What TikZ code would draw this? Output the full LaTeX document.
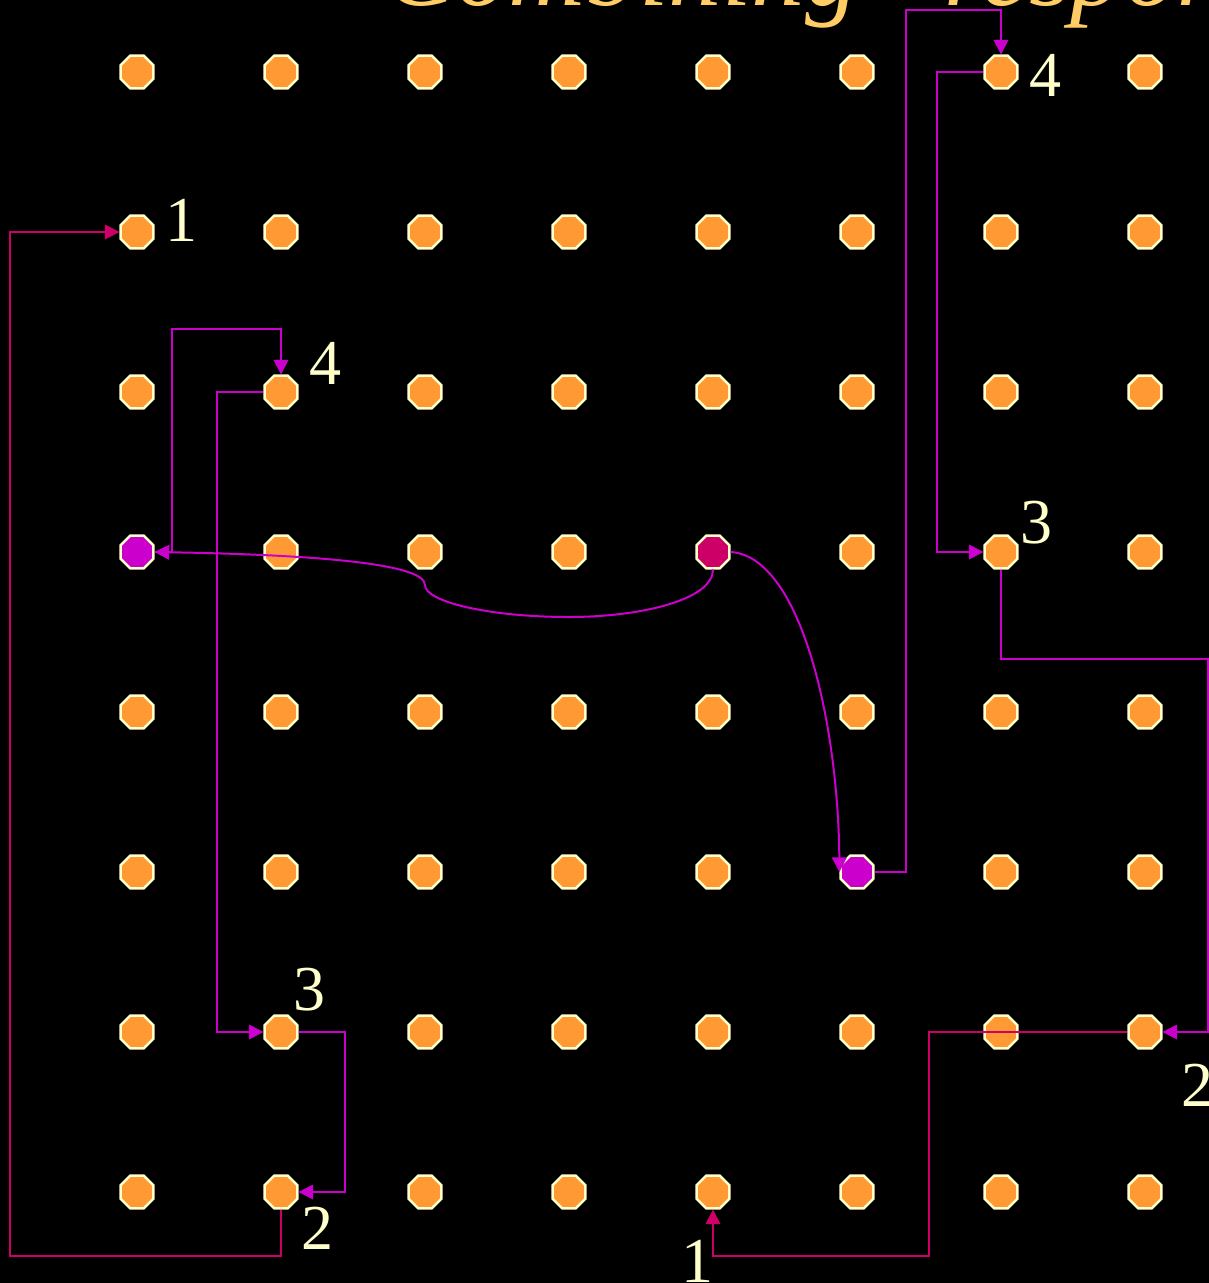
\documentclass[tikz,border=0pt]{standalone}
\usepackage{fontspec}
\setmainfont{Liberation Serif}
\usetikzlibrary{shapes.geometric,arrows.meta,positioning}
\definecolor{dotorange}{RGB}{255,153,51}
\definecolor{cream}{RGB}{255,255,204}
\definecolor{linkmag}{RGB}{204,0,204}
\definecolor{linkred}{RGB}{204,0,102}
\definecolor{titlegold}{RGB}{255,204,102}

\begin{document}
\begin{tikzpicture}[x=0.75pt,y=-0.75pt,
  dot/.style={regular polygon,regular polygon sides=8,draw=cream,line width=1.8pt,fill=dotorange,inner sep=0pt,minimum size=26.5pt},
  lnk/.style={-{Triangle[length=11pt,width=11pt]},line width=1.5pt,draw=linkmag},
  lnkred/.style={lnk,draw=linkred},
  lbl/.style={font=\fontsize{48}{50}\selectfont,text=cream,inner sep=0pt}]
\clip (0,0) rectangle (1209,1283);
\fill[black] (0,0) rectangle (1209,1283);
\node[anchor=base west,inner sep=0pt,text=titlegold,font=\fontsize{80}{86}\selectfont\itshape] (title) at (384,5) {Combining “responses”};
% grid of processors
\foreach \c in {1,...,8}
  \foreach \r in {1,...,8}{
    \def\dotfill{dotorange}
    \ifnum\c\r=54 \def\dotfill{linkred}\fi
    \ifnum\c\r=14 \def\dotfill{linkmag}\fi
    \ifnum\c\r=66 \def\dotfill{linkmag}\fi
    \node[dot,fill=\dotfill] (n-\c-\r) at ({137+144*(\c-1)},{72+160*(\r-1)}) {};
  }
% first combining steps
\draw[lnk] (n-5-4.south) .. controls (713,600) and (640,617) .. (569,617)
  .. controls (490,617) and (425,602) .. (425,585)
  .. controls (425,565) and (330,555) .. (n-1-4.east);
\draw[lnk] (n-5-4.east) .. controls (800,556) and (838,720) .. (n-6-6.west);
% left tour
\draw[lnk] (n-1-4.east) -- (172,552) -- (172,329) -| (n-2-3.north);
\draw[lnk] (n-2-3.west) -- (217,392) |- (n-2-7.west);
\draw[lnk] (n-2-7.east) -- (345,1032) |- (n-2-8.east);
\draw[lnkred] (n-2-8.south) -- (281,1256) -- (10,1256) |- (n-1-2.west);
% right tour
\draw[lnk] (n-6-6.east) -- (906,872) -- (906,10) -| (n-7-1.north);
\draw[lnk] (n-7-1.west) -- (937,72) |- (n-7-4.west);
\draw[lnk] (n-7-4.south) -- (1001,659) -- (1208,659) |- (n-8-7.east);
\draw[lnkred] (n-8-7.west) -- (929,1032) -- (929,1256) -| (n-5-8.south);
% step numbers
\node[lbl] (l1a) at (181,220) {1};
\node[lbl] (l4a) at (325,363) {4};
\node[lbl] (l3a) at (309,990) {3};
\node[lbl] (l2a) at (317,1228) {2};
\node[lbl] (l4b) at (1045,75) {4};
\node[lbl] (l3b) at (1036,523) {3};
\node[lbl] (l2b) at (1197,1085) {2};
\node[lbl] (l1b) at (697,1261) {1};
\end{tikzpicture}
\end{document}
